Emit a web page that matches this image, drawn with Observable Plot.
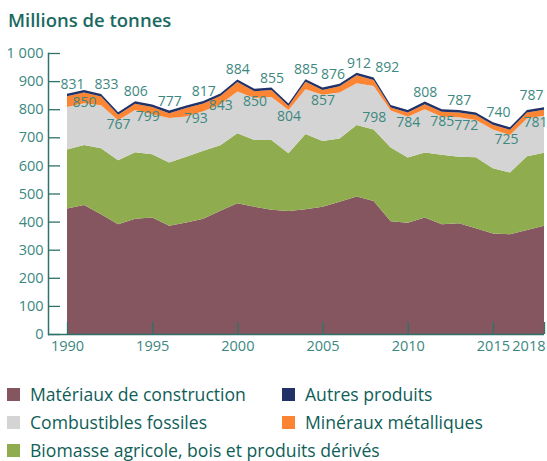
<!DOCTYPE html>
<html>
<head>
<meta charset="utf-8">
<script src="https://cdn.jsdelivr.net/npm/d3@7"></script>
<script src="https://cdn.jsdelivr.net/npm/@observablehq/plot@0.6"></script>
<style>
  html, body { margin: 0; padding: 0; background: #fff; }
  body { width: 547px; height: 461px; overflow: hidden; font-family: "Open Sans", sans-serif; }
  #title { height: 40px; box-sizing: border-box; padding: 7px 0 0 8px; font-size: 18.5px; font-weight: 600; color: #1b6a62; line-height: normal; }
  #chart svg { display: block; }
  #legend { position: relative; height: 97px; padding-top: 16px; box-sizing: border-box; color: #0f5e58; font-size: 17.6px; }
  .row { position: relative; height: 28px; }
  .item { position: absolute; top: 0; height: 28px; display: flex; align-items: center; white-space: nowrap; line-height: 22px; }
  .sw { width: 13px; height: 13px; margin-right: 10px; flex: none; }
</style>
</head>
<body>
<div id="title">Millions de tonnes</div>
<div id="chart"></div>
<div id="legend"></div>
<script>
const years = [1990, 1991, 1992, 1993, 1994, 1995, 1996, 1997, 1998, 1999,
               2000, 2001, 2002, 2003, 2004, 2005, 2006, 2007, 2008, 2009,
               2010, 2011, 2012, 2013, 2014, 2015, 2016, 2017, 2018];

const construction = [447, 459, 426, 391, 410, 415, 385, 397, 410, 439,
                      465, 453, 442, 438, 444, 453, 471, 489, 473, 401,
                      396, 415, 391, 394, 376, 358, 355, 370, 385];
const biomasse     = [210, 214, 235, 227, 237, 225, 225, 234, 242, 233,
                      249, 237, 248, 205, 268, 234, 225, 255, 255, 263,
                      232, 231, 247, 237, 253, 232, 220, 263, 260];
const fossiles     = [151, 148, 153, 143, 150, 142, 159, 143, 141, 146,
                      149, 150, 153, 154, 159, 164, 163, 148, 155, 131,
                      145, 154, 135, 140, 133, 138, 133, 134, 132];
const metalliques  = [38, 38, 31, 19, 22, 26, 17, 30, 27, 29,
                      34, 24, 25, 14, 27, 17, 23, 29, 21, 11,
                      15, 18, 18, 17, 17, 17, 19, 21, 21];
const autres       = [9, 9, 9, 9, 9, 9, 9, 9, 9, 9,
                      9, 9, 9, 9, 9, 9, 9, 9, 9, 9,
                      9, 9, 9, 9, 9, 9, 9, 9, 9];

// total labels printed on the chart
const totals = [831, 850, 833, 767, 806, 799, 777, 793, 817, 843,
                884, 850, 855, 804, 885, 857, 876, 912, 892, 798,
                784, 808, 785, 787, 772, 740, 725, 781, 787];
const labelSide = ["a","b","a","b","a","b","a","b","a","b",
                   "a","b","a","b","a","b","a","a","a","b",
                   "b","a","b","a","b","a","b","b","a"];
// small horizontal nudges (px) to avoid label collisions, as in the original
const labelNudge = [5, 0, 5, 0, 0, -5, 0, 9, 0, 0,
                    0, 0, 0, 0, 0, 0, -7, 2, 13, -17,
                    0, 0, 0, 0, -10, 5, -4, 8, 0];

const seriesNames = ["Matériaux de construction", "Biomasse agricole, bois et produits dérivés",
                     "Combustibles fossiles", "Minéraux métalliques", "Autres produits"];
const seriesColors = ["#855660", "#8fac4e", "#d4d4d4", "#fb8532", "#233266"];
const seriesValues = [construction, biomasse, fossiles, metalliques, autres];

const yTicks = [0, 100, 200, 300, 400, 500, 600, 700, 800, 900, 1000];
const xTicks = [1990, 1995, 2000, 2005, 2010, 2015, 2018];

const rows = [];
seriesNames.forEach((s, k) => years.forEach((yr, i) => rows.push({year: yr, series: s, value: seriesValues[k][i]})));

const labels = years.map((yr, i) => ({
  year: yr,
  top: seriesValues.reduce((acc, arr) => acc + arr[i], 0),
  text: String(totals[i]),
  side: labelSide[i],
  nudge: labelNudge[i],
  last: i === years.length - 1
}));

const axisColor = "#2f716b";
const tickText = "#3b8780";
const labelColor = "#3d8880";
const fr = d3.formatLocale({decimal: ",", thousands: " ", grouping: [3], currency: ["", " €"]});
const fmtY = fr.format(",");

const labelMarks = [];
for (const side of ["a", "b"]) {
  for (const n of [...new Set(labelNudge)]) {
    const sub = labels.filter(d => d.side === side && !d.last && d.nudge === n);
    if (sub.length) labelMarks.push(Plot.text(sub, {x: "year", y: "top", text: "text", dx: n, dy: side === "a" ? -10 : 12, fill: labelColor, fontSize: 14}));
  }
}
labelMarks.push(Plot.text(labels.filter(d => d.last), {x: "year", y: "top", text: "text", dx: -1, dy: -12, textAnchor: "end", fill: labelColor, fontSize: 14}));

const chart = Plot.plot({
  width: 547,
  height: 324,
  marginLeft: 48,
  marginRight: 3,
  marginTop: 13,
  marginBottom: 30,
  style: {fontFamily: "'Open Sans', sans-serif", fontSize: "14px", color: tickText, background: "white"},
  x: {domain: [1990, 2018], insetLeft: 19},
  y: {domain: [0, 1000]},
  color: {domain: seriesNames, range: seriesColors},
  marks: [
    Plot.areaY(rows, Plot.stackY({x: "year", y: "value", fill: "series", order: seriesNames})),
    Plot.ruleY([0], {stroke: axisColor, strokeWidth: 1.5}),
    Plot.frame({anchor: "left", stroke: axisColor, strokeWidth: 1.5}),
    Plot.axisY(yTicks, {tickSize: 12, dx: 12, tickFormat: () => "", label: null, stroke: axisColor, strokeWidth: 1.3}),
    Plot.axisY(yTicks, {tickSize: 0, tickPadding: 5, tickFormat: fmtY, label: null, fill: tickText, fontSize: 14.5}),
    Plot.axisX(xTicks, {tickSize: 12, dy: -12, tickFormat: () => "", label: null, stroke: axisColor, strokeWidth: 1.3}),
    Plot.axisX(xTicks.filter(t => t !== 2018), {tickSize: 0, tickPadding: 6, tickFormat: d => String(d), label: null, fill: tickText, fontSize: 14.5}),
    Plot.axisX(xTicks.filter(t => t === 2018), {tickSize: 0, tickPadding: 6, tickFormat: d => String(d), label: null, textAnchor: "end", dx: 1, fill: tickText, fontSize: 14.5}),
    ...labelMarks
  ]
});
document.getElementById("chart").appendChild(chart);

// legend
const legendLayout = [
  [["Matériaux de construction", 7], ["Autres produits", 282]],
  [["Combustibles fossiles", 7], ["Minéraux métalliques", 282]],
  [["Biomasse agricole, bois et produits dérivés", 7]]
];
const legend = document.getElementById("legend");
legendLayout.forEach(r => {
  const row = document.createElement("div");
  row.className = "row";
  r.forEach(([name, left]) => {
    const item = document.createElement("div");
    item.className = "item";
    item.style.left = left + "px";
    const sw = document.createElement("span");
    sw.className = "sw";
    sw.style.background = seriesColors[seriesNames.indexOf(name)];
    const t = document.createElement("span");
    t.textContent = name;
    item.appendChild(sw);
    item.appendChild(t);
    row.appendChild(item);
  });
  legend.appendChild(row);
});
</script>
</body>
</html>
